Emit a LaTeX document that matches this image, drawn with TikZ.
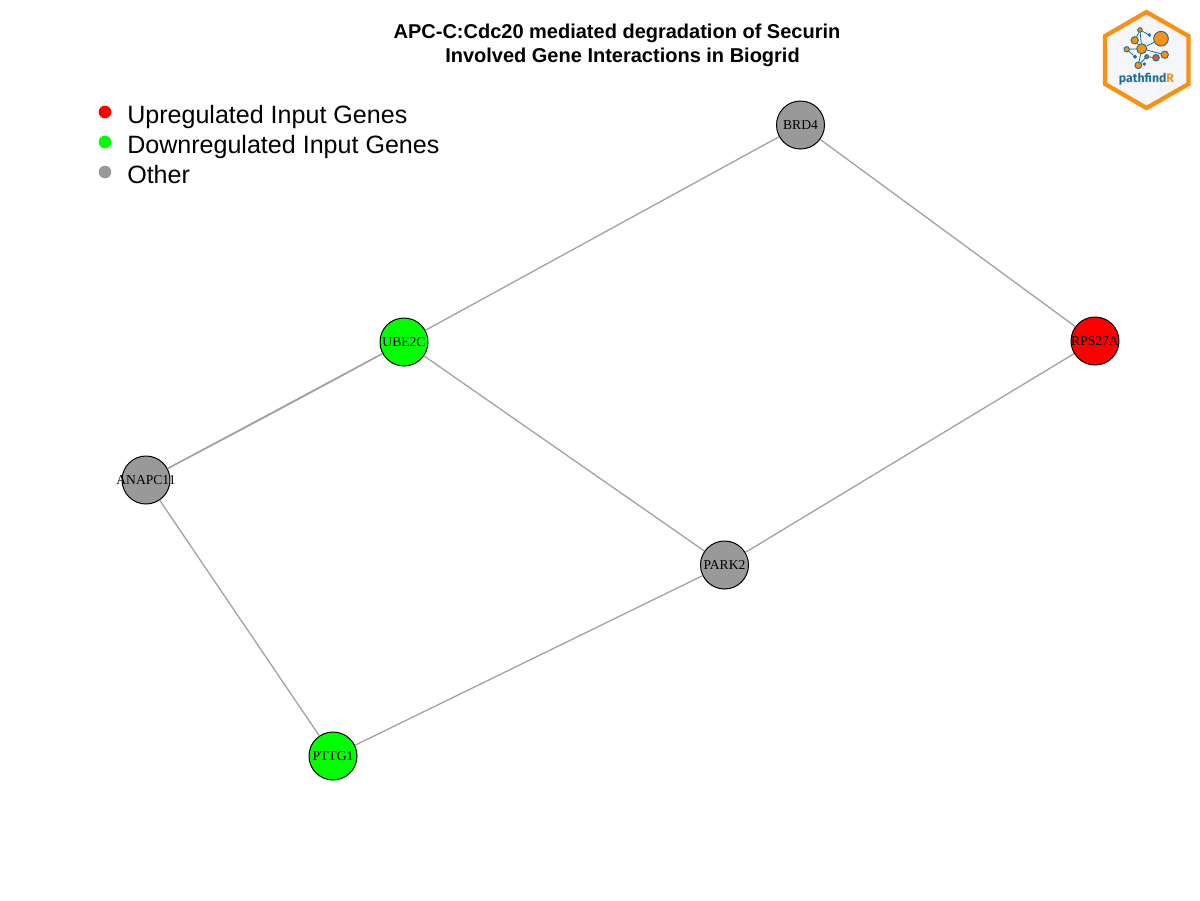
\documentclass[tikz,border=0pt]{standalone}
\usepackage{fontspec}
\setmainfont{Liberation Sans}
\newfontfamily\genefont{Liberation Serif}
\newfontfamily\logofont{Fira Sans}
\definecolor{othergrey}{HTML}{999999}
\definecolor{edgegrey}{HTML}{A3A3A3}
\definecolor{logoorange}{HTML}{FA900F}
\definecolor{logored}{HTML}{F0561D}
\definecolor{logoblue}{HTML}{1C6E93}
\definecolor{logoback}{HTML}{F4F6F9}
\begin{document}
\begin{tikzpicture}[
        x=0.75pt, y=-0.75pt,
        gene/.style={circle, draw=black, line width=0.75pt, minimum size=36pt, inner sep=0pt, font=\genefont\fontsize{10.2pt}{11pt}\selectfont},
        link/.style={edgegrey, line width=1pt},
        dot/.style={circle, minimum size=9.5pt, inner sep=0pt},
        legendtext/.style={anchor=base west, inner sep=0pt, font=\fontsize{18.8pt}{22pt}\selectfont},
        ball/.style={circle, draw=logoblue, line width=0.7pt, fill=logoorange, inner sep=0pt},
        twig/.style={logoblue, line width=0.6pt}
    ]
        \useasboundingbox (0,0) rectangle (1200,900);

        % Title
        \node[align=center, inner sep=0pt, font=\bfseries\fontsize{15pt}{18pt}\selectfont] (title) at (617,45) {APC-C:Cdc20 mediated degradation of Securin\\\hspace*{8.25pt}Involved Gene Interactions in Biogrid};

        % Legend
        \node[dot, fill=red] (dotup) at (105,112) {};
        \node[legendtext] (textup) at (127,123) {Upregulated Input Genes};
        \node[dot, fill=green] (dotdown) at (105,142) {};
        \node[legendtext] (textdown) at (127,153) {Downregulated Input Genes};
        \node[dot, fill=othergrey] (dotother) at (105,172) {};
        \node[legendtext] (textother) at (127,183) {Other};

        % Gene nodes
        \node[gene, fill=othergrey] (brd4) at (800.5,125) {BRD4};
        \node[gene, fill=green] (ube2c) at (404,342) {\makebox[0pt]{UBE2C}};
        \node[gene, fill=red] (rps27a) at (1095,341) {\makebox[0pt]{RPS27A}};
        \node[gene, fill=othergrey] (anapc11) at (146,480) {\makebox[0pt]{ANAPC11}};
        \node[gene, fill=othergrey] (park2) at (724.5,565) {\makebox[0pt]{PARK2}};
        \node[gene, fill=green] (pttg1) at (333,756) {\makebox[0pt]{PTTG1}};

        % Interactions
        \draw[link] (brd4) -- (ube2c);
        \draw[link] (brd4) -- (rps27a);
        \draw[link] (ube2c) -- (park2);
        \draw[link] (ube2c) -- (anapc11);
        \draw[link] (ube2c) to[bend left=0.4] (anapc11);
        \draw[link] (rps27a) -- (park2);
        \draw[link] (park2) -- (pttg1);
        \draw[link] (anapc11) -- (pttg1);

        % Logo
        \draw[logoorange, line width=3.2pt, fill=logoback, line join=miter] (1146.5,12) -- (1188.5,36) -- (1188.5,84) -- (1146.5,108) -- (1105,84) -- (1105,36) -- cycle;
        \node[ball, minimum size=11pt] (lbig) at (1161,38.7) {};
        \node[ball, minimum size=7.5pt] (lhub) at (1141.7,48.7) {};
        \node[ball, minimum size=5.5pt] (lupper) at (1134.7,40.3) {};
        \node[ball, minimum size=3.4pt] (ltop) at (1140,30) {};
        \node[ball, minimum size=1.8pt, fill=logoblue] (ltip) at (1149.3,35) {};
        \node[ball, minimum size=4pt] (lleft) at (1126.7,49.3) {};
        \node[ball, minimum size=2.2pt, fill=logoblue] (lsmall) at (1135,56.7) {};
        \node[ball, minimum size=5pt] (llow) at (1138.3,65.3) {};
        \node[ball, minimum size=3pt, fill=logored] (lmid) at (1146.7,56.7) {};
        \node[ball, minimum size=5pt, fill=logored] (lred) at (1156,57.7) {};
        \node[ball, minimum size=5.5pt] (lright) at (1164.7,54.7) {};
        \node[ball, minimum size=1.8pt, fill=logored] (ldrop) at (1144.3,64) {};
        \draw[twig] (lhub) -- (lbig);
        \draw[twig] (lhub) -- (lupper);
        \draw[twig] (lupper) -- (ltop);
        \draw[twig] (ltop) -- (lhub);
        \draw[twig] (ltop) -- (ltip);
        \draw[twig] (lhub) -- (lleft);
        \draw[twig] (lleft) -- (lsmall);
        \draw[twig] (lhub) -- (llow);
        \draw[twig] (lhub) -- (lright);
        \draw[twig] (lmid) -- (lred);
        \draw[twig] (lmid) -- (llow);
        \node[inner sep=0pt, text=logoblue, font=\logofont\bfseries\fontsize{9.2pt}{11pt}\selectfont] (logotext) at (1146.5,79) {pathfind\textcolor{logoorange}{R}};
    \end{tikzpicture}
\end{document}
